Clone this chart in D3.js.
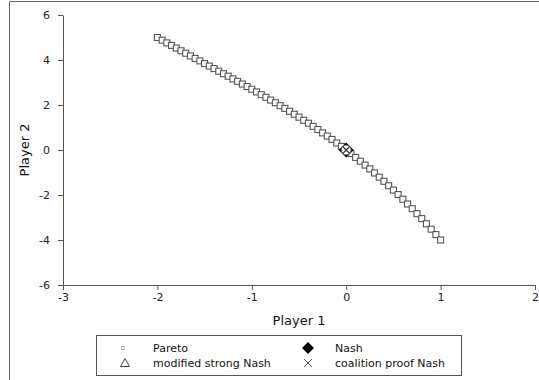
<!DOCTYPE html>
<html>
<head>
<meta charset="utf-8">
<script src="https://cdn.jsdelivr.net/npm/d3@7"></script>
<style>
  body { margin: 0; background: #fff; }
  svg { display: block; font-family: "DejaVu Sans", sans-serif; }
</style>
</head>
<body>
<div id="chart"></div>
<script>
// Pareto frontier points (Player 1 payoff, Player 2 payoff)
const paretoX = [-2.00, -1.95, -1.90, -1.85, -1.80, -1.75, -1.70, -1.65, -1.60, -1.55,
  -1.50, -1.45, -1.40, -1.35, -1.30, -1.25, -1.20, -1.15, -1.10, -1.05,
  -1.00, -0.95, -0.90, -0.85, -0.80, -0.75, -0.70, -0.65, -0.60, -0.55,
  -0.50, -0.45, -0.40, -0.35, -0.30, -0.25, -0.20, -0.15, -0.10, -0.05,
  0.00, 0.05, 0.10, 0.15, 0.20, 0.25, 0.30, 0.35, 0.40, 0.45,
  0.50, 0.55, 0.60, 0.65, 0.70, 0.75, 0.80, 0.85, 0.90, 0.95, 1.00];
const paretoY = [5.00, 4.88, 4.76, 4.65, 4.53, 4.41, 4.30, 4.18, 4.07, 3.96,
  3.84, 3.73, 3.62, 3.50, 3.39, 3.28, 3.16, 3.05, 2.93, 2.82,
  2.70, 2.58, 2.46, 2.34, 2.22, 2.10, 1.97, 1.85, 1.72, 1.59,
  1.46, 1.32, 1.19, 1.05, 0.91, 0.76, 0.62, 0.47, 0.31, 0.16,
  0.00, -0.16, -0.33, -0.50, -0.67, -0.84, -1.02, -1.21, -1.39, -1.59,
  -1.78, -1.98, -2.19, -2.40, -2.61, -2.83, -3.05, -3.28, -3.52, -3.76, -4.00];
const nash = [[0, 0]];
const coalitionNash = [[0, 0]];
const xTicks = [-3, -2, -1, 0, 1, 2];
const yTicks = [-6, -4, -2, 0, 2, 4, 6];
const legendLabels = ['Pareto', 'modified strong Nash', 'Nash', 'coalition proof Nash'];

const width = 539, height = 380;
const margin = { top: 15, right: 4, bottom: 95, left: 63 };

const svg = d3.select('#chart').append('svg')
  .attr('width', width)
  .attr('height', height);

// outer frame
svg.append('path')
  .attr('d', `M${width + 2},1.5 H9.5 V${height + 2}`)
  .attr('fill', 'none')
  .attr('stroke', '#666')
  .attr('stroke-width', 1);

const x = d3.scaleLinear().domain([-3, 2]).range([margin.left, width - margin.right]);
const y = d3.scaleLinear().domain([-6, 6]).range([height - margin.bottom, margin.top]);

const axisColor = '#555';
const fmt = d => String(d);

const gx = svg.append('g')
  .attr('transform', `translate(0,${height - margin.bottom})`)
  .call(d3.axisBottom(x).tickValues(xTicks).tickFormat(fmt).tickSize(5).tickPadding(3).tickSizeOuter(0));
const gy = svg.append('g')
  .attr('transform', `translate(${margin.left},0)`)
  .call(d3.axisLeft(y).tickValues(yTicks).tickFormat(fmt).tickSize(5).tickPadding(8).tickSizeOuter(0));

[gx, gy].forEach(g => {
  g.select('.domain').attr('stroke', axisColor);
  g.selectAll('.tick line').attr('stroke', axisColor);
  g.selectAll('.tick text')
    .attr('fill', '#222')
    .style('font-size', '11px')
    .style('font-family', '"DejaVu Sans", sans-serif');
});

svg.append('text')
  .attr('x', (x.range()[0] + x.range()[1]) / 2)
  .attr('y', 325)
  .attr('text-anchor', 'middle')
  .attr('fill', '#111')
  .style('font-size', '13px')
  .text('Player 1');

svg.append('text')
  .attr('transform', `translate(29,${y(0)}) rotate(-90)`)
  .attr('text-anchor', 'middle')
  .attr('fill', '#111')
  .style('font-size', '13px')
  .text('Player 2');

// Pareto squares
const pareto = paretoX.map((v, i) => [v, paretoY[i]]);
svg.append('g').selectAll('rect')
  .data(pareto)
  .enter().append('rect')
  .attr('x', d => x(d[0]) - 3)
  .attr('y', d => y(d[1]) - 3)
  .attr('width', 6)
  .attr('height', 6)
  .attr('fill', '#fff')
  .attr('stroke', '#555')
  .attr('stroke-width', 1.1);

// Nash diamond
svg.append('g').selectAll('path')
  .data(nash)
  .enter().append('path')
  .attr('transform', d => `translate(${x(d[0])},${y(d[1])})`)
  .attr('d', 'M0,-7.5 L7.5,0 L0,7.5 L-7.5,0 Z')
  .attr('fill', '#000');

svg.append('g').selectAll('circle')
  .data(coalitionNash)
  .enter().append('circle')
  .attr('cx', d => x(d[0]))
  .attr('cy', d => y(d[1]))
  .attr('r', 5)
  .attr('fill', '#fff')
  .attr('stroke', '#444');

// coalition proof Nash cross
svg.append('g').selectAll('path')
  .data(coalitionNash)
  .enter().append('path')
  .attr('transform', d => `translate(${x(d[0])},${y(d[1])})`)
  .attr('d', 'M-3.5,-3.5 L3.5,3.5 M-3.5,3.5 L3.5,-3.5')
  .attr('stroke', '#333')
  .attr('stroke-width', 1.2);

// legend
const lg = svg.append('g');
lg.append('rect')
  .attr('x', 96.5).attr('y', 335.5)
  .attr('width', 365).attr('height', 40)
  .attr('fill', '#fff')
  .attr('stroke', '#555');

const legendPos = [[123, 348, 153], [125, 363, 153], [308, 348, 335], [308, 363, 335]];
legendLabels.forEach((label, i) => {
  const [mx, my, tx] = legendPos[i];
  lg.append('text')
    .attr('x', tx).attr('y', my + 4)
    .attr('fill', '#111')
    .style('font-size', '11px')
    .text(label);
});
lg.append('rect').attr('x', 121.5).attr('y', 346.5).attr('width', 3).attr('height', 3)
  .attr('fill', '#fff').attr('stroke', '#aaa').attr('stroke-width', 0.8);
lg.append('path').attr('d', 'M125,358.5 L129.5,366.5 L120.5,366.5 Z')
  .attr('fill', 'none').attr('stroke', '#444');
lg.append('path').attr('d', 'M308,342 L314,348 L308,354 L302,348 Z').attr('fill', '#000');
lg.append('path').attr('d', 'M304,359 L312,367 M304,367 L312,359')
  .attr('stroke', '#555').attr('stroke-width', 1);
</script>
</body>
</html>
